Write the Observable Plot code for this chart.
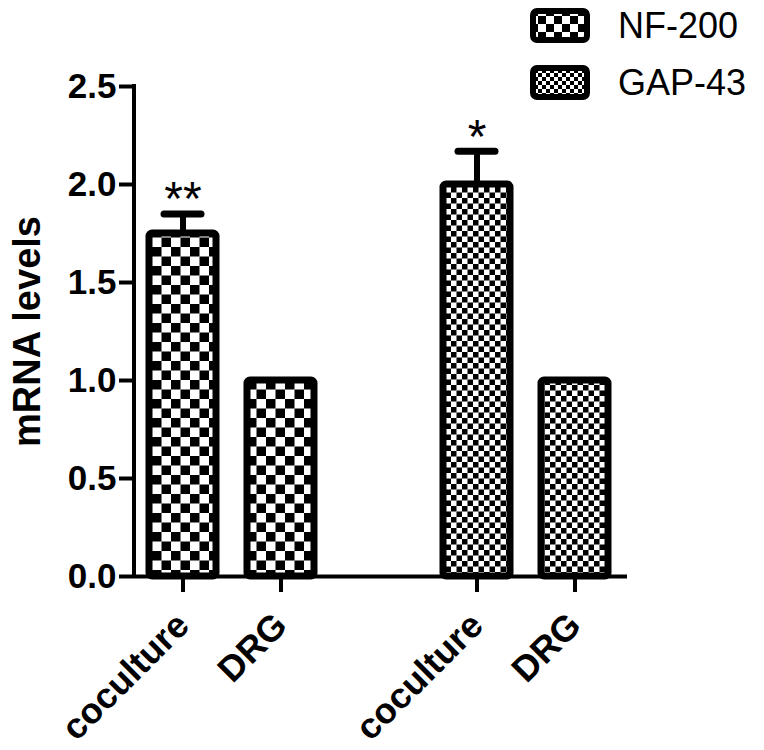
<!DOCTYPE html>
<html>
<head>
<meta charset="utf-8">
<script src="https://cdn.jsdelivr.net/npm/d3@7"></script>
<script src="https://cdn.jsdelivr.net/npm/@observablehq/plot@0.6"></script>
<style>
  body { margin: 0; background: #fff; font-family: "Liberation Sans", Arial, sans-serif; }
  #wrap { position: relative; width: 764px; height: 750px; }
  #legend { position: absolute; left: 530px; top: 8px; }
  .item { display: flex; align-items: center; height: 35px; margin-bottom: 22px; }
  .item span { font-size: 36px; margin-left: 28px; color: #000; }
</style>
</head>
<body>
<svg width="0" height="0" style="position:absolute">
  <defs>
    <pattern id="nf" patternUnits="userSpaceOnUse" width="19" height="19">
      <rect width="19" height="19" fill="#fff"/>
      <rect x="0" y="0" width="9.5" height="9.5" fill="#000"/>
      <rect x="9.5" y="9.5" width="9.5" height="9.5" fill="#000"/>
    </pattern>
    <pattern id="gap" patternUnits="userSpaceOnUse" width="11" height="11">
      <rect width="11" height="11" fill="#fff"/>
      <rect x="0" y="0" width="5.5" height="5.5" fill="#000"/>
      <rect x="5.5" y="5.5" width="5.5" height="5.5" fill="#000"/>
    </pattern>
    <pattern id="nfL" patternUnits="userSpaceOnUse" width="16" height="16">
      <rect width="16" height="16" fill="#fff"/>
      <rect x="0" y="0" width="8" height="8" fill="#000"/>
      <rect x="8" y="8" width="8" height="8" fill="#000"/>
    </pattern>
    <pattern id="gapL" patternUnits="userSpaceOnUse" width="8" height="8">
      <rect width="8" height="8" fill="#fff"/>
      <rect x="0" y="0" width="4" height="4" fill="#000"/>
      <rect x="4" y="4" width="4" height="4" fill="#000"/>
    </pattern>
  </defs>
</svg>
<div id="wrap">
  <div id="legend"></div>
</div>
<script>
// Data
const slots = ["NF-200 coculture", "NF-200 DRG", "", "GAP-43 coculture", "GAP-43 DRG"];
const groups = ["NF-200", "NF-200", "GAP-43", "GAP-43"];
const conditions = ["coculture", "DRG", "coculture", "DRG"];
const means = [1.75, 1.0, 2.0, 1.0];
const errors = [0.1, 0, 0.17, 0];
const stars = ["**", "", "*", ""];
const yTicks = [0, 0.5, 1.0, 1.5, 2.0, 2.5];
const legendLabels = ["NF-200", "GAP-43"];

const data = groups.map((g, i) => ({
  slot: g + " " + conditions[i],
  group: g,
  cond: conditions[i],
  mean: means[i],
  err: errors[i],
  star: stars[i]
}));
const withErr = data.filter(d => d.err > 0);
const nfData = data.filter(d => d.group === "NF-200");
const gapData = data.filter(d => d.group === "GAP-43");

const font = "Liberation Sans, Arial, sans-serif";
const ML = 134;

const plot = Plot.plot({
  width: 764,
  height: 750,
  marginTop: 86,
  marginBottom: 174,
  marginLeft: ML,
  marginRight: 137,
  style: { fontFamily: font, color: "#000", background: "transparent" },
  x: { type: "band", domain: slots, paddingInner: 0.318, paddingOuter: 0.168, align: 0.44 },
  y: { domain: [0, 2.5] },
  marks: [
    Plot.barY(nfData, { x: "slot", y: "mean", fill: "url(#nf)", stroke: "#000", strokeWidth: 7, rx: 3 }),
    Plot.barY(gapData, { x: "slot", y: "mean", fill: "url(#gap)", stroke: "#000", strokeWidth: 7, rx: 3 }),
    Plot.ruleX(withErr, { x: "slot", y1: "mean", y2: d => d.mean + d.err, strokeWidth: 6 }),
    Plot.tickY(withErr, { x: "slot", y: d => d.mean + d.err, strokeWidth: 7, strokeLinecap: "round", insetLeft: 15, insetRight: 15 }),
    Plot.text(withErr, { x: "slot", y: d => d.mean + d.err, text: "star", dy: -14, fontSize: 48, fill: "#000" }),
    Plot.ruleY([0], { strokeWidth: 4 }),
    Plot.axisY({ ticks: yTicks, tickFormat: d3.format(".1f"), tickSize: 15, tickPadding: 3, strokeWidth: 4,
      fontSize: 35, fontWeight: "bold", label: null }),
    Plot.axisX({ ticks: slots.filter(s => s), tickFormat: s => s.split(" ")[1], tickSize: 16, strokeWidth: 4,
      tickRotate: -45, tickPadding: 27, fontSize: 36, fontWeight: "bold", label: null }),
    Plot.text(["mRNA levels"], { frameAnchor: "left", textAnchor: "middle", dx: -(ML - 27), rotate: -90,
      fontSize: 38, fontWeight: "bold", fill: "#000" })
  ]
});

// y axis line drawn with the plot's own y scale
const ys = plot.scale("y");
d3.select(plot).append("line")
  .attr("x1", ML).attr("x2", ML)
  .attr("y1", ys.apply(2.5) - 2).attr("y2", ys.apply(0) + 2)
  .attr("stroke", "#000").attr("stroke-width", 4);

document.getElementById("wrap").appendChild(plot);

// Legend
const legend = document.getElementById("legend");
legendLabels.forEach((lab, i) => {
  const item = document.createElement("div");
  item.className = "item";
  const pid = i === 0 ? "nfL" : "gapL";
  item.innerHTML = `<svg width="60" height="35"><rect x="3" y="3" width="54" height="29" rx="4" fill="url(#${pid})" stroke="#000" stroke-width="6"/></svg><span>${lab}</span>`;
  legend.appendChild(item);
});
</script>
</body>
</html>
